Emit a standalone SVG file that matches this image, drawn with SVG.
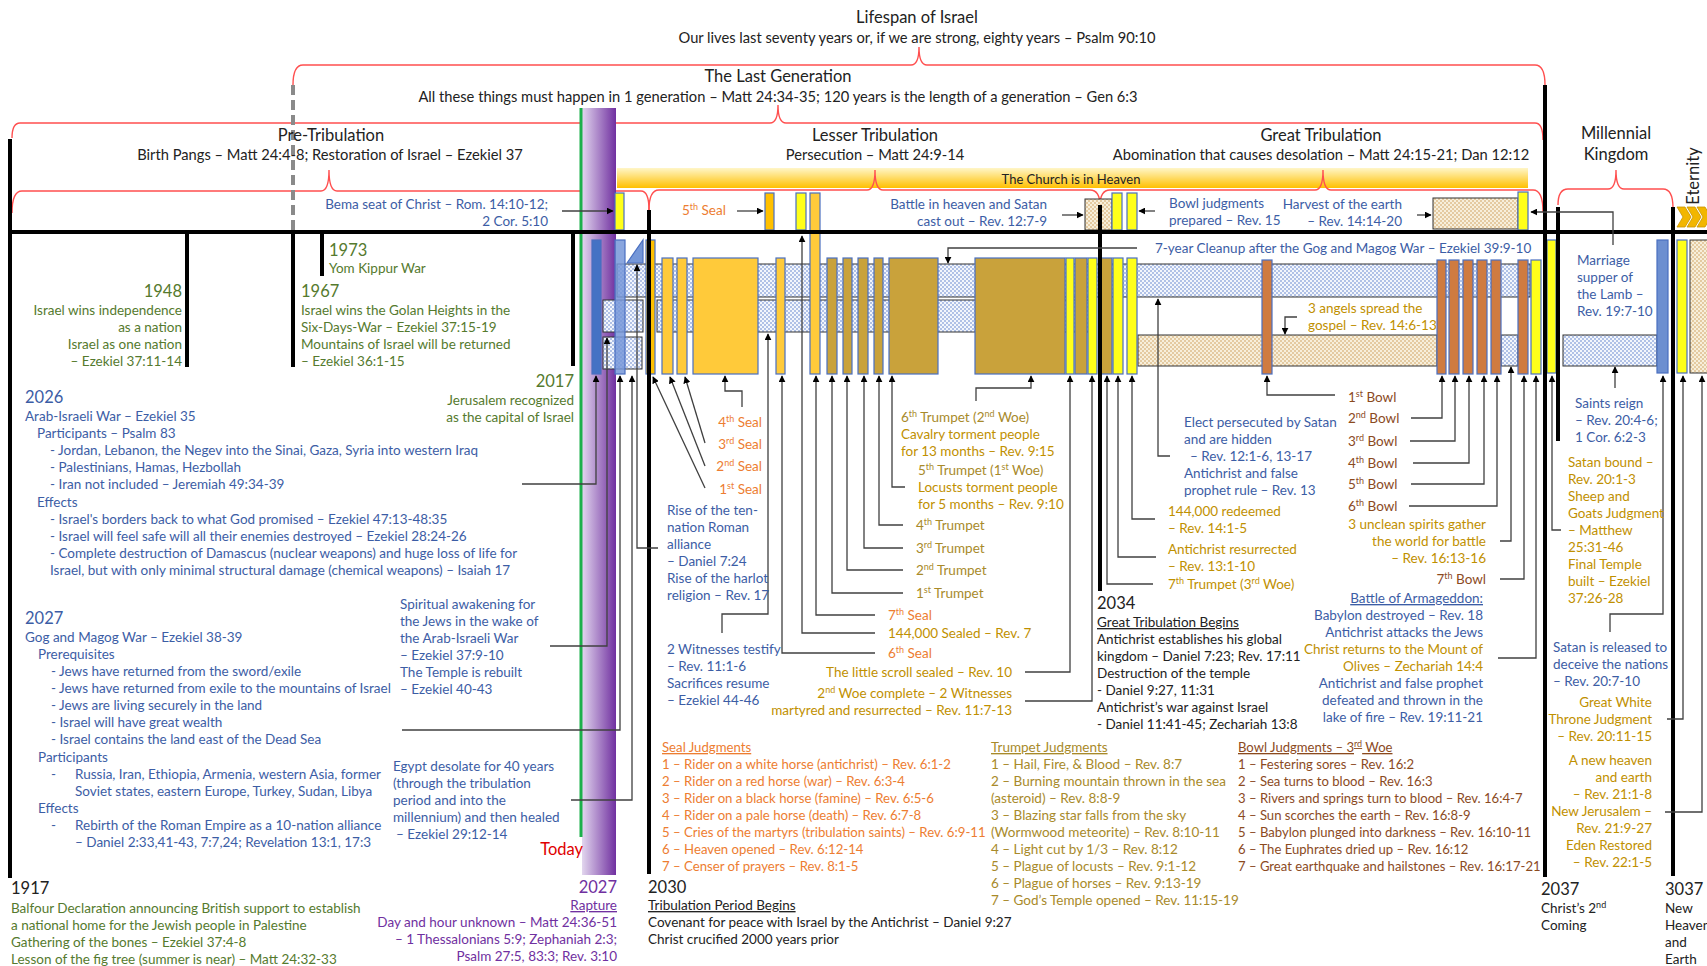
<svg xmlns="http://www.w3.org/2000/svg" width="1707" height="966" viewBox="0 0 1707 966">
<defs>
<style>
text{font-family:Lato,"Noto Sans",sans-serif;font-size:13.5px}
.ttl{font-size:16.5px;fill:#222}
.sub{font-size:14.7px;fill:#222}
.yr{font-size:16.5px}
.g{fill:#557A2E}.b{fill:#3C5DA5}.o{fill:#ED7D31}.gd{fill:#BF9000}.tr{fill:#A88A2A}.br{fill:#8B4A1E}.p{fill:#7030A0}.k{fill:#222}.r{fill:#E00000}
.e{text-anchor:end}.m{text-anchor:middle}
.u{text-decoration:underline}
.sl text{font-size:13.2px}
.bl text{font-size:13.1px}
.brace{fill:none;stroke:#FF4F4F;stroke-width:1.4}
.vl{stroke:#000;stroke-width:4}
.c{fill:none;stroke:#404040;stroke-width:1.3}
.bar{stroke:#4A6FC0;stroke-width:1.2}
.bx{stroke:#333;stroke-width:1}
</style>
<marker id="ah" viewBox="0 0 10 10" refX="9" refY="5" markerWidth="7" markerHeight="7" orient="auto" markerUnits="userSpaceOnUse"><path d="M0,0 L10,5 L0,10 z" fill="#000"/></marker>
<pattern id="bd" width="4" height="4" patternUnits="userSpaceOnUse"><rect width="4" height="4" fill="#F3F6FC"/><circle cx="1" cy="1" r="0.75" fill="#4C72C6"/><circle cx="3" cy="3" r="0.75" fill="#4C72C6"/></pattern>
<pattern id="bg" width="4" height="4" patternUnits="userSpaceOnUse"><rect width="4" height="4" fill="#F7EFDB"/><circle cx="1" cy="1" r="0.75" fill="#C8934A"/><circle cx="3" cy="3" r="0.75" fill="#C8934A"/></pattern>
<linearGradient id="church" x1="0" y1="0" x2="0" y2="1"><stop offset="0" stop-color="#FFF6C8"/><stop offset="1" stop-color="#FFC000"/></linearGradient>
<linearGradient id="purp" x1="0" y1="0" x2="1" y2="0"><stop offset="0" stop-color="#E2D6EE"/><stop offset="1" stop-color="#7030A0"/></linearGradient>
</defs>
<rect width="1707" height="966" fill="#fff"/>

<g id="braces">
<path class="brace" d="M293,85 Q293,65 303,65 L911,65 Q919,65 919,47 Q919,65 927,65 L1535,65 Q1545,65 1545,85"/>
<path class="brace" d="M12,138 Q12,123 20,123 L770,123 Q778,123 778,105 Q778,123 786,123 L1535,123 Q1543,123 1543,140"/>
<path class="brace" d="M12,213 Q12,191 22,191 L321,191 Q329,191 329,170 Q329,191 337,191 L641,191 Q649,191 649,210"/>
<path class="brace" d="M1558,205 Q1558,189 1568,189 L1608,189 Q1616,189 1616,170 Q1616,189 1624,189 L1663,189 Q1673,189 1673,208"/>
</g>

<g id="church-bar">
<rect x="617" y="168" width="911" height="20" fill="url(#church)"/>
<text x="1071" y="184" class="m" style="font-size:13px;fill:#222">The Church is in Heaven</text>
</g>
<g id="braces2">
<path class="brace" d="M649,210 Q649,190 659,190 L867,190 Q875,190 875,170 Q875,190 883,190 L1090,190 Q1100,190 1100,206"/>
<path class="brace" d="M1100,206 Q1100,190 1110,190 L1315,190 Q1323,190 1323,170 Q1323,190 1331,190 L1533,190 Q1543,190 1543,212"/>
</g>

<g id="rapture-bar">
<rect x="582" y="108" width="34" height="767" fill="url(#purp)"/>
<line x1="581" y1="108" x2="581" y2="837" stroke="#1BB04A" stroke-width="3"/>
</g>

<g id="bands">
<rect x="617" y="264" width="913" height="33" fill="url(#bd)" class="bx"/>
<rect x="657" y="300" width="435" height="32" fill="url(#bd)" class="bx"/>
<rect x="603" y="300" width="40" height="32" fill="url(#bd)" class="bx"/>
<rect x="603" y="337" width="39" height="32" fill="url(#bd)" class="bx"/>
<rect x="1138" y="335" width="299" height="31" fill="url(#bg)" class="bx"/>
<rect x="1501" y="335" width="17" height="31" fill="url(#bd)" class="bx"/>
<rect x="1563" y="335" width="94" height="31" fill="url(#bd)" class="bx"/>
</g>

<g id="bars">
<rect class="bar" x="592" y="240" width="9" height="134" fill="#4472C4"/>
<rect class="bar" x="615" y="240" width="10" height="134" fill="#7597D8" fill-opacity="0.85"/>
<polygon class="bar" points="627,263 643,240 643,263" fill="#7597D8"/>
<rect class="bar" x="646" y="240" width="9" height="134" fill="#FFC000"/>
<rect class="bar" x="662" y="258" width="11" height="116" fill="#FFCA3A"/>
<rect class="bar" x="677" y="258" width="10" height="116" fill="#FFCA3A"/>
<rect class="bar" x="693" y="258" width="65" height="116" fill="#FFCA3A"/>
<rect class="bar" x="776" y="258" width="9" height="116" fill="#FFCA3A"/>
<rect class="bar" x="810" y="193" width="10" height="181" fill="#FFCA3A"/>
<rect class="bar" x="827" y="258" width="10" height="116" fill="#C9A23B"/>
<rect class="bar" x="843" y="258" width="9" height="116" fill="#C9A23B"/>
<rect class="bar" x="858" y="258" width="10" height="116" fill="#C9A23B"/>
<rect class="bar" x="874" y="258" width="9" height="116" fill="#C9A23B"/>
<rect class="bar" x="889" y="258" width="49" height="116" fill="#C9A23B"/>
<rect class="bar" x="975" y="258" width="90" height="116" fill="#C9A23B"/>
<rect class="bar" x="1066" y="258" width="8" height="116" fill="#FFFF1A"/>
<rect class="bar" x="1075" y="258" width="12" height="116" fill="#C9A23B"/>
<rect class="bar" x="1088" y="258" width="9" height="116" fill="#FFFF1A"/>
<rect class="bar" x="1101" y="258" width="11" height="116" fill="#C9A23B"/>
<rect class="bar" x="1113" y="258" width="10" height="116" fill="#FFFF1A"/>
<rect class="bar" x="1127" y="258" width="10" height="116" fill="#FFFF1A"/>
<rect class="bar" x="615" y="193" width="9" height="37" fill="#FFFF1A"/>
<rect class="bar" x="765" y="193" width="9" height="37" fill="#FFC000"/>
<rect class="bar" x="796" y="193" width="10" height="37" fill="#FFFF1A"/>
<rect class="bx" x="1085" y="199" width="27" height="31" fill="url(#bg)"/>
<rect class="bar" x="1112" y="193" width="10" height="37" fill="#FFFF1A"/>
<rect class="bar" x="1127" y="193" width="10" height="37" fill="#FFFF1A"/>
<rect class="bx" x="1433" y="198" width="85" height="31" fill="url(#bg)"/>
<rect class="bar" x="1518" y="192" width="10" height="38" fill="#FFFF1A"/>
<rect class="bar" x="1262" y="260" width="10" height="114" fill="#CF7B40"/>
<rect class="bar" x="1437" y="260" width="9" height="114" fill="#CF7B40"/>
<rect class="bar" x="1449" y="260" width="10" height="114" fill="#CF7B40"/>
<rect class="bar" x="1463" y="260" width="10" height="114" fill="#CF7B40"/>
<rect class="bar" x="1477" y="260" width="10" height="114" fill="#CF7B40"/>
<rect class="bar" x="1491" y="260" width="10" height="114" fill="#CF7B40"/>
<rect class="bar" x="1518" y="260" width="10" height="114" fill="#CF7B40"/>
<rect class="bar" x="1531" y="260" width="10" height="114" fill="#FFFF1A"/>
<rect class="bar" x="1547" y="240" width="9" height="133" fill="#FFFF1A"/>
<rect class="bar" x="1657" y="240" width="11" height="133" fill="#6D8FD0"/>
<rect class="bar" x="1677" y="240" width="10" height="133" fill="#FFFF1A"/>
<rect class="bx" x="1690" y="240" width="20" height="133" fill="url(#bg)"/>
<polygon points="1677,207 1685,207 1691,217 1685,227 1677,227 1683,217" fill="#F2B600" stroke="#C99500" stroke-width="0.8"/>
<polygon points="1687,207 1695,207 1701,217 1695,227 1687,227 1693,217" fill="#F2B600" stroke="#C99500" stroke-width="0.8"/>
<polygon points="1697,207 1705,207 1711,217 1705,227 1697,227 1703,217" fill="#F2B600" stroke="#C99500" stroke-width="0.8"/>
</g>

<g id="timeline">
<line x1="10" y1="232" x2="1707" y2="232" stroke="#000" stroke-width="4"/>
<line class="vl" x1="10" y1="139" x2="10" y2="878"/>
<line class="vl" x1="187" y1="232" x2="187" y2="367"/>
<line x1="293" y1="85" x2="293" y2="232" stroke="#8A8A8A" stroke-width="4" stroke-dasharray="10,5"/>
<line class="vl" x1="293" y1="232" x2="293" y2="367"/>
<line class="vl" x1="322" y1="232" x2="322" y2="276"/>
<line class="vl" x1="573" y1="232" x2="573" y2="366"/>
<line class="vl" x1="649" y1="210" x2="649" y2="874"/>
<line class="vl" x1="1100" y1="205" x2="1100" y2="591"/>
<line class="vl" x1="1545" y1="85" x2="1545" y2="877"/>
<line class="vl" x1="1558" y1="207" x2="1558" y2="441"/>
<line class="vl" x1="1673" y1="207" x2="1673" y2="876"/>
</g>

<g id="connectors">
<path class="c" marker-end="url(#ah)" d="M562,211 H613"/>
<path class="c" marker-end="url(#ah)" d="M737,211 H763"/>
<path class="c" marker-end="url(#ah)" d="M1062,215 H1083"/>
<path class="c" marker-end="url(#ah)" d="M1155,211 H1139"/>
<path class="c" marker-end="url(#ah)" d="M1417,215 H1431"/>
<path class="c" marker-end="url(#ah)" d="M1613,245 V212 H1531"/>
<path class="c" marker-end="url(#ah)" d="M1137,248 H948 V263"/>
<path class="c" marker-end="url(#ah)" d="M875,633 H802 V236"/>
<path class="c" marker-end="url(#ah)" d="M522,484 H596 V376"/>
<path class="c" marker-end="url(#ah)" d="M550,646 H607 V338"/>
<path class="c" marker-end="url(#ah)" d="M402,730 H620 V376"/>
<path class="c" marker-end="url(#ah)" d="M571,800 H632 V376"/>
<path class="c" marker-end="url(#ah)" d="M658,548 H637 V265"/>
<path class="c" marker-end="url(#ah)" d="M705,488 L653,377"/>
<path class="c" marker-end="url(#ah)" d="M705,466 L670,377"/>
<path class="c" marker-end="url(#ah)" d="M705,443 L685,377"/>
<path class="c" marker-end="url(#ah)" d="M742,407 V391 H725 V376"/>
<path class="c" marker-end="url(#ah)" d="M722,633 V614 H768 V334"/>
<path class="c" marker-end="url(#ah)" d="M875,653 H782 V376"/>
<path class="c" marker-end="url(#ah)" d="M875,615 H816 V376"/>
<path class="c" marker-end="url(#ah)" d="M903,593 H832 V376"/>
<path class="c" marker-end="url(#ah)" d="M903,570 H847 V376"/>
<path class="c" marker-end="url(#ah)" d="M903,548 H864 V376"/>
<path class="c" marker-end="url(#ah)" d="M903,525 H879 V376"/>
<path class="c" marker-end="url(#ah)" d="M905,487 H892 V376"/>
<path class="c" marker-end="url(#ah)" d="M976,401 V388 H1031 V376"/>
<path class="c" marker-end="url(#ah)" d="M1025,672 H1070 V376"/>
<path class="c" marker-end="url(#ah)" d="M1025,701 H1092 V376"/>
<path class="c" marker-end="url(#ah)" d="M1153,584 H1107 V376"/>
<path class="c" marker-end="url(#ah)" d="M1156,557 H1118 V376"/>
<path class="c" marker-end="url(#ah)" d="M1155,519 H1132 V376"/>
<path class="c" marker-end="url(#ah)" d="M1170,456 H1158 V299"/>
<path class="c" marker-end="url(#ah)" d="M1297,317 H1285 V334"/>
<path class="c" marker-end="url(#ah)" d="M1335,395 H1267 V376"/>
<path class="c" marker-end="url(#ah)" d="M1411,418 H1442 V376"/>
<path class="c" marker-end="url(#ah)" d="M1410,441 H1455 V376"/>
<path class="c" marker-end="url(#ah)" d="M1413,463 H1469 V376"/>
<path class="c" marker-end="url(#ah)" d="M1411,484 H1484 V376"/>
<path class="c" marker-end="url(#ah)" d="M1409,506 H1497 V376"/>
<path class="c" marker-end="url(#ah)" d="M1500,541 H1511 V367"/>
<path class="c" marker-end="url(#ah)" d="M1500,579 H1524 V376"/>
<path class="c" marker-end="url(#ah)" d="M1498,658 H1536 V376"/>
<path class="c" marker-end="url(#ah)" d="M1561,530 H1552 V376"/>
<path class="c" marker-end="url(#ah)" d="M1615,388 V367"/>
<path class="c" marker-end="url(#ah)" d="M1610,632 V614 H1663 V376"/>
<path class="c" marker-end="url(#ah)" d="M1667,719 H1683 V376"/>
<path class="c" marker-end="url(#ah)" d="M1665,812 H1702 V376"/>
</g>

<g id="lifespan"><text x="917" y="23" class="ttl m">Lifespan of Israel</text><text x="917" y="43" class="sub m">Our lives last seventy years or, if we are strong, eighty years – Psalm 90:10</text></g>
<g id="lastgen"><text x="778" y="82" class="ttl m">The Last Generation</text><text x="778" y="102" class="sub m">All these things must happen in 1 generation – Matt 24:34-35; 120 years is the length of a generation – Gen 6:3</text></g>
<g id="pretrib"><text x="331" y="141" class="ttl m">Pre-Tribulation</text><text x="330" y="160" class="sub m">Birth Pangs – Matt 24:4-8; Restoration of Israel – Ezekiel 37</text></g>
<g id="lessertrib"><text x="875" y="141" class="ttl m">Lesser Tribulation</text><text x="875" y="160" class="sub m">Persecution – Matt 24:9-14</text></g>
<g id="greattrib"><text x="1321" y="141" class="ttl m">Great Tribulation</text><text x="1321" y="160" class="sub m">Abomination that causes desolation – Matt 24:15-21; Dan 12:12</text></g>
<g id="millennial"><text x="1616" y="139" class="ttl m">Millennial</text><text x="1616" y="160" class="ttl m">Kingdom</text></g>
<g id="eternity"><text transform="translate(1699,176) rotate(-90)" class="ttl m">Eternity</text></g>

<g id="bema"><text x="548" y="209" class="b e">Bema seat of Christ – Rom. 14:10-12;</text><text x="548" y="226" class="b e">2 Cor. 5:10</text></g>
<g id="seal5"><text x="682" y="215" class="o">5<tspan dy="-5" font-size="9">th</tspan><tspan dy="5"> Seal</tspan></text></g>
<g id="battleheaven"><text x="1047" y="209" class="b e">Battle in heaven and Satan</text><text x="1047" y="226" class="b e">cast out – Rev. 12:7-9</text></g>
<g id="bowlprep"><text x="1169" y="208" class="b">Bowl judgments</text><text x="1169" y="225" class="b">prepared – Rev. 15</text></g>
<g id="harvest"><text x="1402" y="209" class="b e">Harvest of the earth</text><text x="1402" y="226" class="b e">– Rev. 14:14-20</text></g>
<g id="cleanup"><text x="1155" y="253" class="b">7-year Cleanup after the Gog and Magog War – Ezekiel 39:9-10</text></g>

<g id="y1973"><text x="329" y="256" class="yr g">1973</text><text x="329" y="273" class="g">Yom Kippur War</text></g>
<g id="y1948"><text x="182" y="297" class="yr g e">1948</text><text x="182" y="315" class="g e">Israel wins independence</text><text x="182" y="332" class="g e">as a nation</text><text x="182" y="349" class="g e">Israel as one nation</text><text x="182" y="366" class="g e">– Ezekiel 37:11-14</text></g>
<g id="y1967"><text x="301" y="297" class="yr g">1967</text><text x="301" y="315" class="g">Israel wins the Golan Heights in the</text><text x="301" y="332" class="g">Six-Days-War – Ezekiel 37:15-19</text><text x="301" y="349" class="g">Mountains of Israel will be returned</text><text x="301" y="366" class="g">– Ezekiel 36:1-15</text></g>
<g id="y2017"><text x="574" y="387" class="yr g e">2017</text><text x="574" y="405" class="g e">Jerusalem recognized</text><text x="574" y="422" class="g e">as the capital of Israel</text></g>

<g id="y2026">
<text x="25" y="403" class="yr b">2026</text>
<text x="25" y="421" class="b">Arab-Israeli War – Ezekiel 35</text>
<text x="37" y="438" class="b">Participants – Psalm 83</text>
<text x="50" y="455" class="b">- Jordan, Lebanon, the Negev into the Sinai, Gaza, Syria into western Iraq</text>
<text x="50" y="472" class="b">- Palestinians, Hamas, Hezbollah</text>
<text x="50" y="489" class="b">- Iran not included – Jeremiah 49:34-39</text>
<text x="37" y="507" class="b">Effects</text>
<text x="50" y="524" class="b">- Israel's borders back to what God promised – Ezekiel 47:13-48:35</text>
<text x="50" y="541" class="b">- Israel will feel safe will all their enemies destroyed – Ezekiel 28:24-26</text>
<text x="50" y="558" class="b">- Complete destruction of Damascus (nuclear weapons) and huge loss of life for</text>
<text x="50" y="575" class="b">Israel, but with only minimal structural damage (chemical weapons) – Isaiah 17</text>
</g>
<g id="y2027">
<text x="25" y="624" class="yr b">2027</text>
<text x="25" y="642" class="b">Gog and Magog War – Ezekiel 38-39</text>
<text x="38" y="659" class="b">Prerequisites</text>
<text x="51" y="676" class="b">- Jews have returned from the sword/exile</text>
<text x="51" y="693" class="b">- Jews have returned from exile to the mountains of Israel</text>
<text x="51" y="710" class="b">- Jews are living securely in the land</text>
<text x="51" y="727" class="b">- Israel will have great wealth</text>
<text x="51" y="744" class="b">- Israel contains the land east of the Dead Sea</text>
<text x="38" y="762" class="b">Participants</text>
<text x="51" y="779" class="b">-</text><text x="75" y="779" class="b">Russia, Iran, Ethiopia, Armenia, western Asia, former</text>
<text x="75" y="796" class="b">Soviet states, eastern Europe, Turkey, Sudan, Libya</text>
<text x="38" y="813" class="b">Effects</text>
<text x="51" y="830" class="b">-</text><text x="75" y="830" class="b">Rebirth of the Roman Empire as a 10-nation alliance</text>
<text x="75" y="847" class="b">– Daniel 2:33,41-43, 7:7,24; Revelation 13:1, 17:3</text>
</g>
<g id="y1917">
<text x="11" y="894" class="yr k">1917</text>
<text x="11" y="913" class="g">Balfour Declaration announcing British support to establish</text>
<text x="11" y="930" class="g">a national home for the Jewish people in Palestine</text>
<text x="11" y="947" class="g">Gathering of the bones – Ezekiel 37:4-8</text>
<text x="11" y="964" class="g">Lesson of the fig tree (summer is near) – Matt 24:32-33</text>
</g>

<g id="spiritual">
<text x="400" y="609" class="b">Spiritual awakening for</text>
<text x="400" y="626" class="b">the Jews in the wake of</text>
<text x="400" y="643" class="b">the Arab-Israeli War</text>
<text x="400" y="660" class="b">–  Ezekiel 37:9-10</text>
<text x="400" y="677" class="b">The Temple is rebuilt</text>
<text x="400" y="694" class="b">– Ezekiel 40-43</text>
</g>
<g id="egypt">
<text x="393" y="771" class="b">Egypt desolate for 40 years</text>
<text x="393" y="788" class="b">(through the tribulation</text>
<text x="393" y="805" class="b">period and into the</text>
<text x="393" y="822" class="b">millennium) and then healed</text>
<text x="396" y="839" class="b">– Ezekiel 29:12-14</text>
</g>
<g id="today"><text x="583" y="855" class="yr r e">Today</text></g>
<g id="y2027r">
<text x="617" y="893" class="yr p e">2027</text>
<text x="617" y="910" class="p e u">Rapture</text>
<text x="617" y="927" class="p e">Day and hour unknown – Matt 24:36-51</text>
<text x="617" y="944" class="p e">– 1 Thessalonians 5:9; Zephaniah 2:3;</text>
<text x="617" y="961" class="p e">Psalm 27:5, 83:3; Rev. 3:10</text>
</g>
<g id="y2030">
<text x="648" y="893" class="yr k">2030</text>
<text x="648" y="910" class="k u">Tribulation Period Begins</text>
<text x="648" y="927" class="k">Covenant for peace with Israel by the Antichrist – Daniel 9:27</text>
<text x="648" y="944" class="k">Christ crucified 2000 years prior</text>
</g>

<g id="seals1to4">
<text x="762" y="427" class="o e">4<tspan dy="-5" font-size="9">th</tspan><tspan dy="5"> Seal</tspan></text>
<text x="762" y="449" class="o e">3<tspan dy="-5" font-size="9">rd</tspan><tspan dy="5"> Seal</tspan></text>
<text x="762" y="471" class="o e">2<tspan dy="-5" font-size="9">nd</tspan><tspan dy="5"> Seal</tspan></text>
<text x="762" y="494" class="o e">1<tspan dy="-5" font-size="9">st</tspan><tspan dy="5"> Seal</tspan></text>
</g>
<g id="rise">
<text x="667" y="515" class="b">Rise of the ten-</text>
<text x="667" y="532" class="b">nation Roman</text>
<text x="667" y="549" class="b">alliance</text>
<text x="667" y="566" class="b">– Daniel 7:24</text>
<text x="667" y="583" class="b">Rise of the harlot</text>
<text x="667" y="600" class="b">religion – Rev. 17</text>
</g>
<g id="witnesses">
<text x="667" y="654" class="b">2 Witnesses testify</text>
<text x="667" y="671" class="b">– Rev. 11:1-6</text>
<text x="667" y="688" class="b">Sacrifices resume</text>
<text x="667" y="705" class="b">– Ezekiel 44-46</text>
</g>
<g id="trumpets">
<text x="901" y="422" class="tr">6<tspan dy="-5" font-size="9">th</tspan><tspan dy="5"> Trumpet (2</tspan><tspan dy="-5" font-size="9">nd</tspan><tspan dy="5"> Woe)</tspan></text>
<text x="901" y="439" class="gd">Cavalry torment people</text>
<text x="901" y="456" class="gd">for 13 months – Rev. 9:15</text>
<text x="918" y="475" class="tr">5<tspan dy="-5" font-size="9">th</tspan><tspan dy="5"> Trumpet (1</tspan><tspan dy="-5" font-size="9">st</tspan><tspan dy="5"> Woe)</tspan></text>
<text x="918" y="492" class="gd">Locusts torment people</text>
<text x="918" y="509" class="gd">for 5 months – Rev. 9:10</text>
<text x="916" y="530" class="tr">4<tspan dy="-5" font-size="9">th</tspan><tspan dy="5"> Trumpet</tspan></text>
<text x="916" y="553" class="tr">3<tspan dy="-5" font-size="9">rd</tspan><tspan dy="5"> Trumpet</tspan></text>
<text x="916" y="575" class="tr">2<tspan dy="-5" font-size="9">nd</tspan><tspan dy="5"> Trumpet</tspan></text>
<text x="916" y="598" class="tr">1<tspan dy="-5" font-size="9">st</tspan><tspan dy="5"> Trumpet</tspan></text>
</g>
<g id="seals5to7">
<text x="888" y="620" class="o">7<tspan dy="-5" font-size="9">th</tspan><tspan dy="5"> Seal</tspan></text>
<text x="888" y="638" class="gd">144,000 Sealed – Rev. 7</text>
<text x="888" y="658" class="o">6<tspan dy="-5" font-size="9">th</tspan><tspan dy="5"> Seal</tspan></text>
<text x="1012" y="677" class="gd e">The little scroll sealed – Rev. 10</text>
<text x="1012" y="698" class="gd e">2<tspan dy="-5" font-size="9">nd</tspan><tspan dy="5"> Woe complete – 2 Witnesses</tspan></text>
<text x="1012" y="715" class="gd e">martyred and resurrected  – Rev. 11:7-13</text>
</g>
<g id="y2034">
<text x="1097" y="609" class="yr k">2034</text>
<text x="1097" y="627" class="k u">Great Tribulation Begins</text>
<text x="1097" y="644" class="k">Antichrist establishes his global</text>
<text x="1097" y="661" class="k">kingdom – Daniel 7:23; Rev. 17:11</text>
<text x="1097" y="678" class="k">Destruction of the temple</text>
<text x="1097" y="695" class="k">- Daniel 9:27, 11:31</text>
<text x="1097" y="712" class="k">Antichrist’s war against Israel</text>
<text x="1097" y="729" class="k">- Daniel 11:41-45; Zechariah 13:8</text>
</g>
<g id="greatlabels">
<text x="1184" y="427" class="b">Elect persecuted by Satan</text>
<text x="1184" y="444" class="b">and are hidden</text>
<text x="1190" y="461" class="b">– Rev. 12:1-6, 13-17</text>
<text x="1184" y="478" class="b">Antichrist and false</text>
<text x="1184" y="495" class="b">prophet rule – Rev. 13</text>
<text x="1168" y="516" class="gd">144,000 redeemed</text>
<text x="1168" y="533" class="gd">– Rev. 14:1-5</text>
<text x="1168" y="554" class="gd">Antichrist resurrected</text>
<text x="1168" y="571" class="gd">– Rev. 13:1-10</text>
<text x="1168" y="589" class="gd">7<tspan dy="-5" font-size="9">th</tspan><tspan dy="5"> Trumpet (3</tspan><tspan dy="-5" font-size="9">rd</tspan><tspan dy="5"> Woe)</tspan></text>
<text x="1308" y="313" class="gd">3 angels spread the</text>
<text x="1308" y="330" class="gd">gospel – Rev. 14:6-13</text>
</g>
<g id="bowls">
<text x="1348" y="402" class="br">1<tspan dy="-5" font-size="9">st</tspan><tspan dy="5"> Bowl</tspan></text>
<text x="1348" y="423" class="br">2<tspan dy="-5" font-size="9">nd</tspan><tspan dy="5"> Bowl</tspan></text>
<text x="1348" y="446" class="br">3<tspan dy="-5" font-size="9">rd</tspan><tspan dy="5"> Bowl</tspan></text>
<text x="1348" y="468" class="br">4<tspan dy="-5" font-size="9">th</tspan><tspan dy="5"> Bowl</tspan></text>
<text x="1348" y="489" class="br">5<tspan dy="-5" font-size="9">th</tspan><tspan dy="5"> Bowl</tspan></text>
<text x="1348" y="511" class="br">6<tspan dy="-5" font-size="9">th</tspan><tspan dy="5"> Bowl</tspan></text>
<text x="1486" y="529" class="gd e">3 unclean spirits gather</text>
<text x="1486" y="546" class="gd e">the world for battle</text>
<text x="1486" y="563" class="gd e">– Rev. 16:13-16</text>
<text x="1486" y="584" class="br e">7<tspan dy="-5" font-size="9">th</tspan><tspan dy="5"> Bowl</tspan></text>
</g>
<g id="armageddon">
<text x="1483" y="603" class="b e u">Battle of Armageddon:</text>
<text x="1483" y="620" class="b e">Babylon destroyed – Rev. 18</text>
<text x="1483" y="637" class="b e">Antichrist attacks the Jews</text>
<text x="1483" y="654" class="gd e">Christ returns to the Mount of</text>
<text x="1483" y="671" class="gd e">Olives – Zechariah 14:4</text>
<text x="1483" y="688" class="b e">Antichrist and false prophet</text>
<text x="1483" y="705" class="b e">defeated and  thrown in the</text>
<text x="1483" y="722" class="b e">lake of fire  – Rev. 19:11-21</text>
</g>
<g id="marriage">
<text x="1577" y="265" class="b">Marriage</text>
<text x="1577" y="282" class="b">supper of</text>
<text x="1577" y="299" class="b">the Lamb –</text>
<text x="1577" y="316" class="b">Rev. 19:7-10</text>
</g>
<g id="saints">
<text x="1575" y="408" class="b">Saints  reign</text>
<text x="1575" y="425" class="b">– Rev. 20:4-6;</text>
<text x="1575" y="442" class="b">1 Cor. 6:2-3</text>
</g>
<g id="satanbound">
<text x="1568" y="467" class="gd">Satan bound –</text>
<text x="1568" y="484" class="gd">Rev. 20:1-3</text>
<text x="1568" y="501" class="gd">Sheep and</text>
<text x="1568" y="518" class="gd">Goats Judgment</text>
<text x="1568" y="535" class="gd">– Matthew</text>
<text x="1568" y="552" class="gd">25:31-46</text>
<text x="1568" y="569" class="gd">Final Temple</text>
<text x="1568" y="586" class="gd">built – Ezekiel</text>
<text x="1568" y="603" class="gd">37:26-28</text>
</g>
<g id="satanreleased">
<text x="1553" y="652" class="b">Satan is released to</text>
<text x="1553" y="669" class="b">deceive the nations</text>
<text x="1553" y="686" class="b">– Rev. 20:7-10</text>
</g>
<g id="whitethrone">
<text x="1652" y="707" class="gd e">Great White</text>
<text x="1652" y="724" class="gd e">Throne Judgment</text>
<text x="1652" y="741" class="gd e">– Rev. 20:11-15</text>
</g>
<g id="newheaven">
<text x="1652" y="765" class="gd e">A new heaven</text>
<text x="1652" y="782" class="gd e">and earth</text>
<text x="1652" y="799" class="gd e">– Rev. 21:1-8</text>
<text x="1652" y="816" class="gd e">New Jerusalem –</text>
<text x="1652" y="833" class="gd e">Rev. 21:9-27</text>
<text x="1652" y="850" class="gd e">Eden Restored</text>
<text x="1652" y="867" class="gd e">– Rev. 22:1-5</text>
</g>
<g id="y2037">
<text x="1541" y="895" class="yr k">2037</text>
<text x="1541" y="913" class="k">Christ’s 2<tspan dy="-5" font-size="9">nd</tspan></text>
<text x="1541" y="930" class="k">Coming</text>
</g>
<g id="y3037">
<text x="1665" y="895" class="yr k">3037</text>
<text x="1665" y="913" class="k">New</text>
<text x="1665" y="930" class="k">Heaven</text>
<text x="1665" y="947" class="k">and</text>
<text x="1665" y="964" class="k">Earth</text>
</g>

<g id="seal-list" class="sl">
<text x="662" y="752" class="o u">Seal Judgments</text>
<text x="662" y="769" class="o">1 – Rider on a white horse (antichrist) – Rev. 6:1-2</text>
<text x="662" y="786" class="o">2 – Rider on a red horse (war) – Rev. 6:3-4</text>
<text x="662" y="803" class="o">3 – Rider on a black horse (famine) – Rev. 6:5-6</text>
<text x="662" y="820" class="o">4 – Rider on a pale horse (death) – Rev. 6:7-8</text>
<text x="662" y="837" class="o">5 – Cries of the martyrs (tribulation saints) – Rev. 6:9-11</text>
<text x="662" y="854" class="o">6 – Heaven opened –  Rev. 6:12-14</text>
<text x="662" y="871" class="o">7 – Censer of prayers – Rev. 8:1-5</text>
</g>
<g id="trumpet-list">
<text x="991" y="752" class="tr u">Trumpet Judgments</text>
<text x="991" y="769" class="tr">1 – Hail, Fire, &amp; Blood – Rev. 8:7</text>
<text x="991" y="786" class="tr">2 – Burning mountain thrown in the sea</text>
<text x="991" y="803" class="tr">(asteroid) – Rev. 8:8-9</text>
<text x="991" y="820" class="tr">3 – Blazing star falls from the sky</text>
<text x="991" y="837" class="tr">(Wormwood meteorite) – Rev. 8:10-11</text>
<text x="991" y="854" class="tr">4 – Light cut by 1/3 – Rev. 8:12</text>
<text x="991" y="871" class="tr">5 – Plague of locusts – Rev. 9:1-12</text>
<text x="991" y="888" class="tr">6 – Plague of horses – Rev. 9:13-19</text>
<text x="991" y="905" class="tr">7 – God’s Temple opened – Rev. 11:15-19</text>
</g>
<g id="bowl-list" class="bl">
<text x="1238" y="752" class="br u">Bowl Judgments – 3<tspan dy="-5" font-size="9">rd</tspan><tspan dy="5"> Woe</tspan></text>
<text x="1238" y="769" class="br">1 – Festering sores – Rev. 16:2</text>
<text x="1238" y="786" class="br">2 – Sea turns to blood – Rev. 16:3</text>
<text x="1238" y="803" class="br">3 – Rivers and springs turn to blood – Rev. 16:4-7</text>
<text x="1238" y="820" class="br">4 – Sun scorches the earth – Rev. 16:8-9</text>
<text x="1238" y="837" class="br">5 – Babylon plunged into darkness – Rev. 16:10-11</text>
<text x="1238" y="854" class="br">6 – The Euphrates dried up – Rev. 16:12</text>
<text x="1238" y="871" class="br">7 – Great earthquake and hailstones – Rev. 16:17-21</text>
</g>
</svg>
